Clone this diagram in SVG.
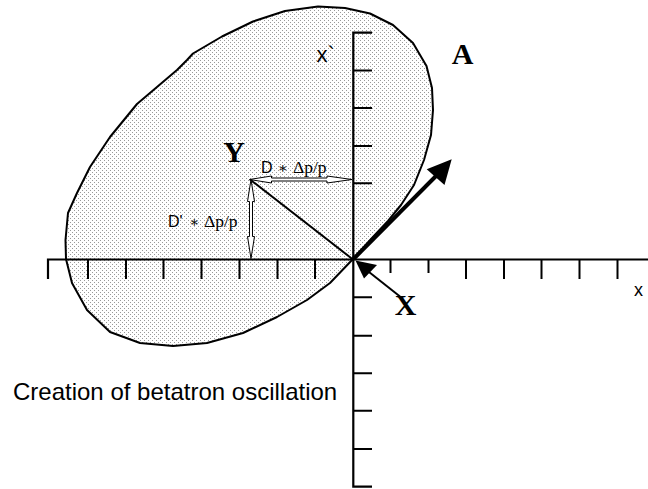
<svg xmlns="http://www.w3.org/2000/svg" width="648" height="489" viewBox="0 0 648 489">
<style>
.ax{stroke:#000;stroke-width:2.2;fill:none;stroke-linecap:butt}
.tk{stroke:#000;stroke-width:2;fill:none}
.bold{font-family:"Liberation Serif","DejaVu Serif",serif;font-weight:bold;font-size:30px;fill:#000}
.sans{font-family:"Liberation Sans","DejaVu Sans",sans-serif;fill:#000}
.ser{font-family:"Liberation Serif","DejaVu Serif",serif;fill:#000}
.hollow{fill:#fff;stroke:#000;stroke-width:1}
</style>
<defs>
<pattern id="dots" patternUnits="userSpaceOnUse" x="0" y="0" width="4" height="4">
<rect x="0" y="0" width="4" height="4" fill="#fff"/>
<rect x="0" y="0" width="1" height="1" fill="#999"/>
<rect x="2" y="2" width="1" height="1" fill="#999"/>
</pattern>
</defs>
<rect x="0" y="0" width="648" height="489" fill="#fff"/>

<g id="ellipse">
<path d="M318,6.5 L345,8 L370,13.5 L393,25 L413,43 L426.5,66 L432,88 L433,110 L431,135 L424,160 L414,185 L401,205 L388,221 L372,238 L353,259 L330,283 L307,300 L277,317 L243,333 L207,343 L173,346 L140,343 L110,332 L87,310 L72,283 L66,259 L65.5,240 L68,213 L77,193 L90,167 L110,137 L137,104 L157,87 L177,70 L187,60 L193,53.5 L222,36.5 L253,21.5 L285,11 Z" fill="url(#dots)" stroke="#000" stroke-width="2" stroke-linejoin="round"/>
</g>

<g id="x-axis">
<path class="ax" d="M48,279 L48,259.5 L648,259.5"/>
<path class="tk" d="M88,259.5 V279 M126,259.5 V279 M163.5,259.5 V279 M201.5,259.5 V279 M239.5,259.5 V279 M277.5,259.5 V279 M315,259.5 V279 M390.5,259.5 V273 M428.5,259.5 V273 M466,259.5 V279 M504,259.5 V279 M541.5,259.5 V279 M579.5,259.5 V279 M617.5,259.5 V279"/>
<text class="sans" x="634" y="296" font-size="18">x</text>
</g>

<g id="y-axis">
<path class="ax" d="M372,32.7 L353.3,32.7 L353.3,486.7 L372,486.7"/>
<path class="tk" d="M353.3,70.4 H372 M353.3,108 H372 M353.3,146 H372 M353.3,183.3 H372 M353.3,297.3 H372 M353.3,335.7 H372 M353.3,373.3 H372 M353.3,410.7 H372 M353.3,449 H372"/>
<text class="sans" x="316.5" y="61.5" font-size="22">x`</text>
</g>

<g id="connectors">
<line x1="250" y1="179.5" x2="353" y2="259.5" stroke="#000" stroke-width="2"/>
<polygon class="hollow" points="249.5,179.5 271.5,176 271.5,178 327,178 327,176 352,179.5 327,183 327,181 271.5,181 271.5,183"/>
<polygon class="hollow" points="251,179.5 254.5,201.5 252.5,201.5 252.5,236.5 254.5,236.5 251,258.5 247.5,236.5 249.5,236.5 249.5,201.5 247.5,201.5"/>
<line x1="353.5" y1="259" x2="436" y2="176" stroke="#000" stroke-width="4"/>
<polygon points="451.7,159.3 444.5,185 426.7,169.3" fill="#000"/>
<line x1="369" y1="272" x2="400" y2="296.5" stroke="#000" stroke-width="2"/>
<polygon points="355.5,260.5 364,278.5 377,265" fill="#000"/>
</g>

<g id="label-Y"><text class="bold" x="234" y="162" text-anchor="middle">Y</text></g>
<g id="label-A"><text class="bold" x="462.5" y="63.5" text-anchor="middle">A</text></g>
<g id="label-X"><text class="bold" x="405.5" y="315" text-anchor="middle">X</text></g>

<g id="label-D">
<text y="172.7"><tspan class="sans" x="261" font-size="16">D</tspan><tspan class="ser" x="277.5" font-size="15">∗</tspan><tspan class="ser" x="293" font-size="17.5">Δp/p</tspan></text>
</g>
<g id="label-Dprime">
<text y="227"><tspan class="sans" x="168" font-size="16">D'</tspan><tspan class="ser" x="189" font-size="15">∗</tspan><tspan class="ser" x="204" font-size="17.5">Δp/p</tspan></text>
</g>

<g id="caption">
<text class="sans" x="13" y="400" font-size="24">Creation of betatron oscillation</text>
</g>
</svg>
